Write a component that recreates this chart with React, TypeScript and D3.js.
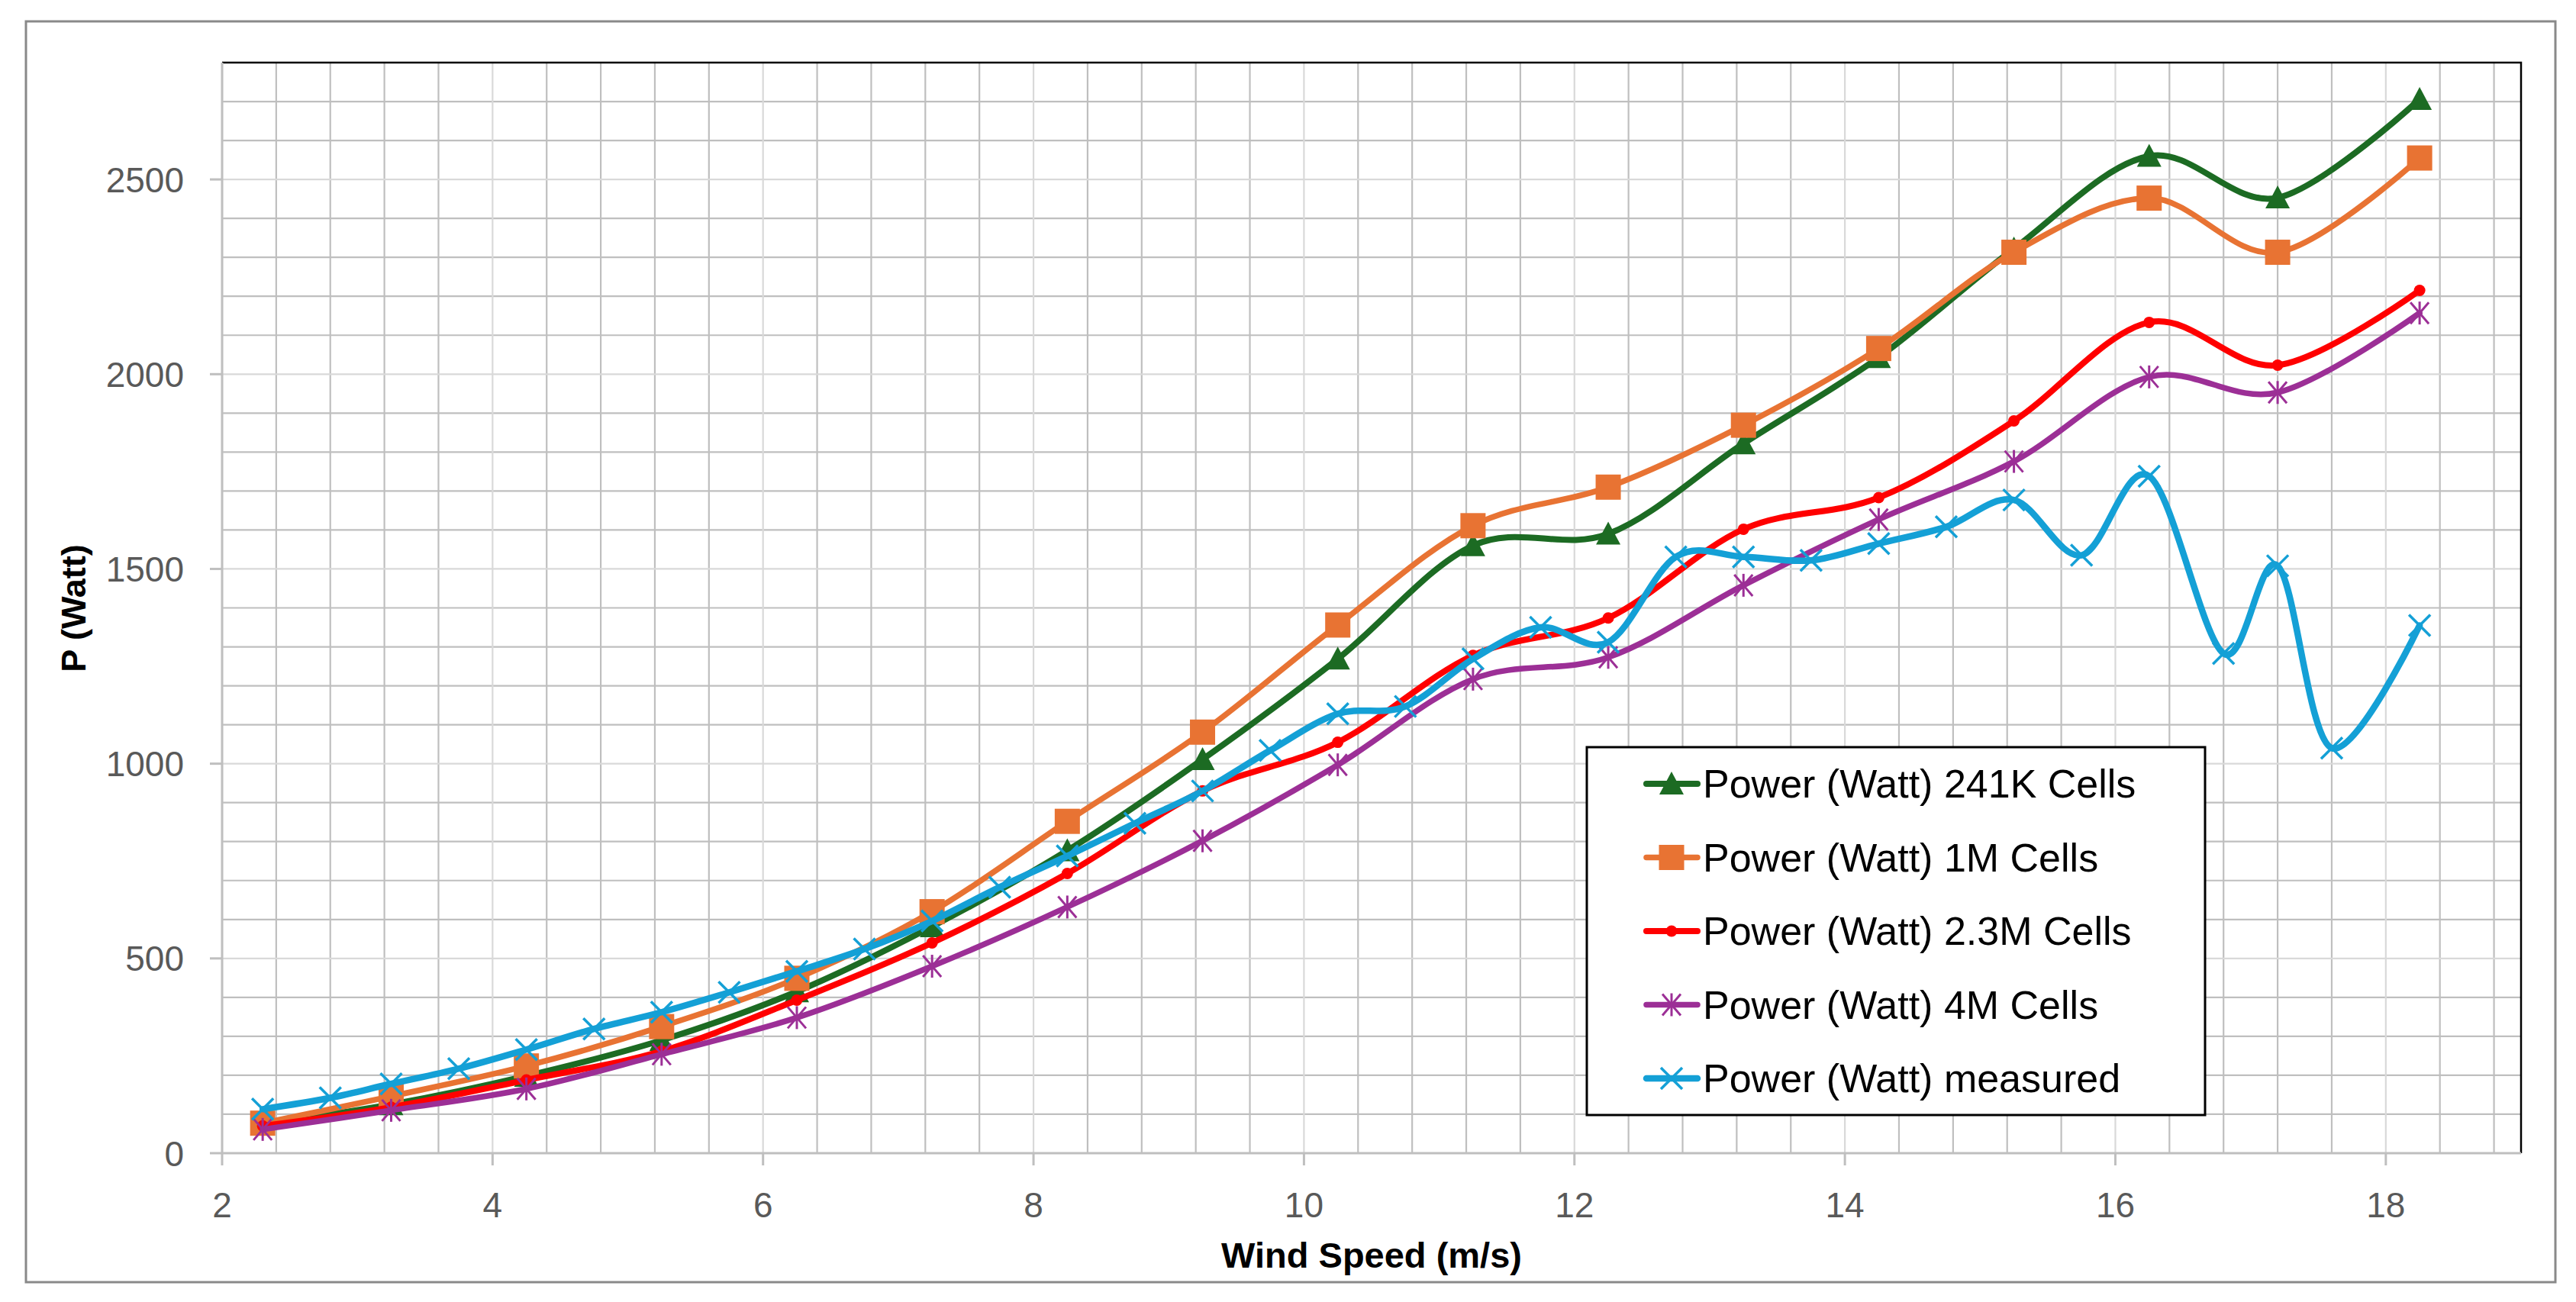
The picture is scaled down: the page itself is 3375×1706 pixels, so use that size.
import React from 'react';
import * as d3 from 'd3';

const W = 3375;
const H = 1706;

// wind speed for the simulated series
const xCells = [2.3, 3.25, 4.25, 5.25, 6.25, 7.25, 8.25, 9.25, 10.25, 11.25, 12.25, 13.25, 14.25, 15.25, 16.25, 17.2, 18.25];
const p241K = [75, 125, 198, 290, 415, 582, 777, 1011, 1269, 1560, 1590, 1822, 2043, 2322, 2560, 2453, 2706];
const p1M = [77, 146, 224, 325, 449, 620, 852, 1081, 1356, 1611, 1710, 1869, 2066, 2313, 2452, 2313, 2555];
const p23M = [70, 118, 188, 262, 393, 540, 718, 930, 1055, 1278, 1374, 1602, 1683, 1880, 2133, 2023, 2215];
const p4M = [61, 110, 165, 254, 348, 480, 632, 802, 997, 1217, 1273, 1458, 1627, 1776, 1993, 1953, 2157];

// measured series
const xMeasured = [2.3, 2.8, 3.25, 3.75, 4.25, 4.75, 5.25, 5.75, 6.25, 6.75, 7.25, 7.75, 8.25, 8.75, 9.25, 9.75, 10.25, 10.75, 11.25, 11.75, 12.25, 12.75, 13.25, 13.75, 14.25, 14.75, 15.25, 15.75, 16.25, 16.8, 17.2, 17.6, 18.25];
const pMeasured = [113, 142, 178, 217, 266, 319, 362, 413, 467, 524, 596, 683, 763, 847, 930, 1034, 1128, 1147, 1269, 1350, 1312, 1531, 1531, 1522, 1565, 1608, 1677, 1535, 1738, 1283, 1508, 1040, 1355];

const xTicks = [2, 4, 6, 8, 10, 12, 14, 16, 18];
const yTicks = [0, 500, 1000, 1500, 2000, 2500];

const seriesNames = [
  'Power (Watt) 241K Cells',
  'Power (Watt) 1M Cells',
  'Power (Watt) 2.3M Cells',
  'Power (Watt) 4M Cells',
  'Power (Watt) measured',
];

type Marker = 'triangle' | 'square' | 'circle' | 'asterisk' | 'x';

const series: { name: string; xs: number[]; ys: number[]; color: string; marker: Marker; width: number }[] = [
  { name: seriesNames[0], xs: xCells, ys: p241K, color: '#1c6b23', marker: 'triangle', width: 8 },
  { name: seriesNames[1], xs: xCells, ys: p1M, color: '#e87333', marker: 'square', width: 7.5 },
  { name: seriesNames[2], xs: xCells, ys: p23M, color: '#ff0000', marker: 'circle', width: 8 },
  { name: seriesNames[3], xs: xCells, ys: p4M, color: '#9c2f96', marker: 'asterisk', width: 7.5 },
  { name: seriesNames[4], xs: xMeasured, ys: pMeasured, color: '#14a0d6', marker: 'x', width: 8.5 },
];

const FONT = '"Liberation Sans", Arial, sans-serif';

function MarkerShape({ type, color, cx, cy }: { type: Marker; color: string; cx: number; cy: number }) {
  const t = `translate(${cx},${cy})`;
  switch (type) {
    case 'triangle':
      return <path transform={t} d="M0,-16 L16,14 L-16,14 Z" fill={color} />;
    case 'square':
      return <rect transform={t} x={-16.5} y={-16.5} width={33} height={33} fill={color} />;
    case 'circle':
      return <circle transform={t} r={7.5} fill={color} />;
    case 'asterisk':
      return (
        <g transform={t} stroke={color} strokeWidth={3}>
          <line x1={-12} y1={-14} x2={12} y2={14} />
          <line x1={-12} y1={14} x2={12} y2={-14} />
          <line x1={0} y1={-15} x2={0} y2={15} />
        </g>
      );
    case 'x':
    default:
      return (
        <g transform={t} stroke={color} strokeWidth={3.5}>
          <line x1={-14} y1={-14} x2={14} y2={14} />
          <line x1={-14} y1={14} x2={14} y2={-14} />
        </g>
      );
  }
}

export default function App() {
  const left = 291;
  const right = 3303;
  const top = 82;
  const bottom = 1511;

  const x = d3.scaleLinear().domain([2, 19]).range([left, right]);
  const y = d3.scaleLinear().domain([0, 2800]).range([bottom, top]);

  const line = d3
    .line<[number, number]>()
    .x((d) => x(d[0]))
    .y((d) => y(d[1]))
    .curve(d3.curveCardinal.tension(0));

  const minorX = d3.range(0, 43).map((i) => 2 + i * 0.4);
  const minorY = d3.range(0, 28).map((i) => i * 100);

  const isMajorX = (v: number) => Math.abs(v / 2 - Math.round(v / 2)) < 1e-6;
  const isMajorY = (v: number) => v % 500 === 0;

  const legendX = 2079;
  const legendY = 979;
  const legendW = 810;
  const legendH = 482;
  const rowY = (i: number) => 1027 + i * 96.5;

  return (
    <svg
      width={W}
      height={H}
      viewBox={`0 0 ${W} ${H}`}
      style={{ position: 'absolute', left: 0, top: 0, background: '#fff' }}
      fontFamily={FONT}
    >
      <rect x={0} y={0} width={W} height={H} fill="#fff" />
      <rect x={34} y={28} width={3314} height={1652} fill="#fff" stroke="#898989" strokeWidth={3} />

      {/* minor gridlines */}
      <g stroke="#bfbfbf" strokeWidth={2.2}>
        {minorX.filter((v) => !isMajorX(v)).map((v) => (
          <line key={'mx' + v} x1={x(v)} x2={x(v)} y1={top} y2={bottom} />
        ))}
        {minorY.filter((v) => !isMajorY(v)).map((v) => (
          <line key={'my' + v} x1={left} x2={right} y1={y(v)} y2={y(v)} />
        ))}
      </g>
      {/* major gridlines */}
      <g stroke="#d9d9d9" strokeWidth={2.2}>
        {xTicks.map((v) => (
          <line key={'Mx' + v} x1={x(v)} x2={x(v)} y1={top} y2={bottom} />
        ))}
        {yTicks.map((v) => (
          <line key={'My' + v} x1={left} x2={right} y1={y(v)} y2={y(v)} />
        ))}
      </g>

      {/* plot border top & right */}
      <path d={`M${left},${top} H${right} V${bottom}`} fill="none" stroke="#000" strokeWidth={2.5} />

      {/* axes */}
      <g stroke="#bfbfbf" strokeWidth={3}>
        <line x1={left} x2={right} y1={bottom} y2={bottom} />
        <line x1={left} x2={left} y1={top} y2={bottom} />
        {xTicks.map((v) => (
          <line key={'tx' + v} x1={x(v)} x2={x(v)} y1={bottom} y2={bottom + 16} />
        ))}
        {yTicks.map((v) => (
          <line key={'ty' + v} x1={left - 16} x2={left} y1={y(v)} y2={y(v)} />
        ))}
      </g>

      {/* tick labels */}
      <g fill="#595959" fontSize={46}>
        {xTicks.map((v) => (
          <text key={'lx' + v} x={x(v)} y={1595} textAnchor="middle">
            {v}
          </text>
        ))}
        {yTicks.map((v) => (
          <text key={'ly' + v} x={241} y={y(v) + 16.5} textAnchor="end">
            {v}
          </text>
        ))}
      </g>

      {/* axis titles */}
      <text x={1797} y={1661} textAnchor="middle" fontSize={47} fontWeight="bold" fill="#000">
        Wind Speed (m/s)
      </text>
      <text
        transform={`translate(112,797) rotate(-90)`}
        textAnchor="middle"
        fontSize={45}
        fontWeight="bold"
        fill="#000"
      >
        P (Watt)
      </text>

      {/* series */}
      {series.map((s) => {
        const pts: [number, number][] = s.xs.map((xv, i) => [xv, s.ys[i]]);
        return (
          <g key={s.name}>
            <path
              d={line(pts) || ''}
              fill="none"
              stroke={s.color}
              strokeWidth={s.width}
              strokeLinejoin="round"
              strokeLinecap="round"
            />
            {pts.map((p, i) => (
              <MarkerShape key={i} type={s.marker} color={s.color} cx={x(p[0])} cy={y(p[1])} />
            ))}
          </g>
        );
      })}

      {/* legend */}
      <rect x={legendX} y={legendY} width={legendW} height={legendH} fill="#fff" stroke="#000" strokeWidth={3} />
      {series.map((s, i) => (
        <g key={'lg' + i}>
          <line x1={2157} x2={2224} y1={rowY(i)} y2={rowY(i)} stroke={s.color} strokeWidth={s.width} strokeLinecap="round" />
          <MarkerShape type={s.marker} color={s.color} cx={2190} cy={rowY(i)} />
          <text x={2231} y={rowY(i) + 18} fontSize={52} fill="#000">
            {s.name}
          </text>
        </g>
      ))}
    </svg>
  );
}
